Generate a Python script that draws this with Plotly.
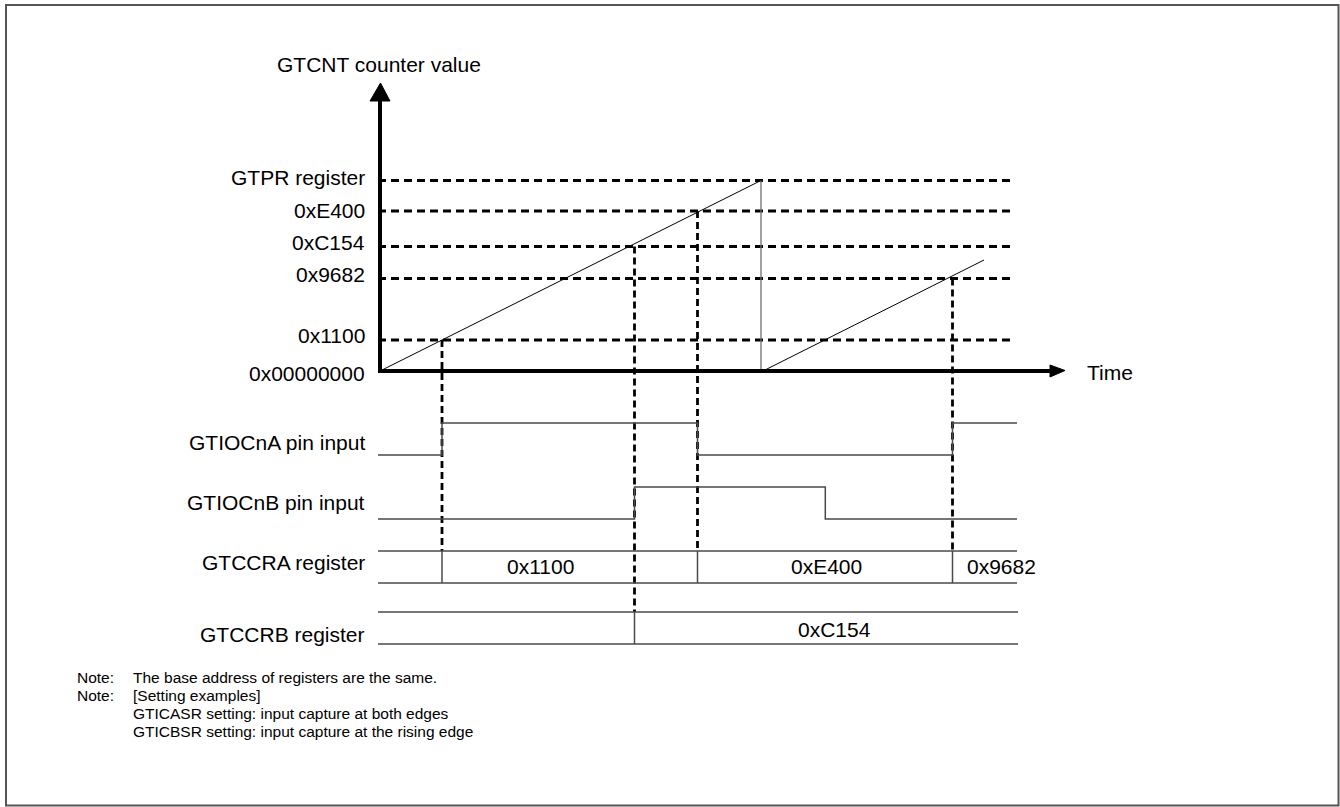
import plotly.graph_objects as go

# ---------------- data (schematic units: t = time, v = counter / signal level) ----------------
counter_labels = ["GTPR register", "0xE400", "0xC154", "0x9682", "0x1100", "0x00000000"]
counter_levels = [190.5, 160, 124.5, 92.5, 31, 0]
counter_label_offset = [3.5, 1, 4.5, 4.5, 5, -2]

ramp1_t = [0, 381]
ramp1_v = [0, 190.5]
wrap_t = [381, 381]
wrap_v = [190.5, 0]
ramp2_t = [383, 604]
ramp2_v = [0, 111]

capture_t = [62, 254.5, 317.5, 572.5]
capture_v = [31, 124.5, 160, 92.5]
capture_row = ["GTCCRA", "GTCCRB", "GTCCRA", "GTCCRA"]

gtiocna_t = [-2, 62, 62, 317.5, 317.5, 572.5, 572.5, 637]
gtiocna_s = [0, 0, 1, 1, 0, 0, 1, 1]
gtiocnb_t = [-2, 254.5, 254.5, 445.3, 445.3, 637]
gtiocnb_s = [0, 0, 1, 1, 0, 0]

gtccra_edges = [-2, 62, 317.5, 572.5, 637]
gtccra_text = ["0x1100", "0xE400", "0x9682"]
gtccra_text_t = [160, 446, 621.7]
gtccrb_edges = [-2, 254.5, 638]
gtccrb_text = ["0xC154"]
gtccrb_text_t = [454]

row_names = ["GTIOCnA", "GTIOCnB", "GTCCRA", "GTCCRB"]
row_labels = ["GTIOCnA pin input", "GTIOCnB pin input", "GTCCRA register", "GTCCRB register"]
row_base = [-84, -148, -212, -273]
row_label_v = [-71, -131, -191.7, -263]
row_height = 32

notes_head = ["Note:", "Note:", "", ""]
notes_body = [
    "The base address of registers are the same.",
    "[Setting examples]",
    "GTICASR setting: input capture at both edges",
    "GTICBSR setting: input capture at the rising edge",
]
notes_v = [-306, -324, -342, -360]

# ---------------- layout constants ----------------
T_MIN, T_MAX = -380, 960
V_MIN, V_MAX = -436, 371
DASH_END = 633
AXIS_T_END = 671
ARROW_T_TIP = 685
AXIS_V_END = 270
ARROW_V_TIP = 288
FONT = "Liberation Sans, Arial, sans-serif"
FS = 21
FS_NOTE = 15.5

base = dict(zip(row_names, row_base))

fig = go.Figure()


def line(x, y, color="#000", width=1.0, dash=None):
    fig.add_trace(go.Scatter(x=x, y=y, mode="lines", hoverinfo="skip", showlegend=False,
                             line=dict(color=color, width=width, dash=dash)))


# horizontal dashed level lines
for lv in counter_levels[:-1]:
    line([-2, DASH_END], [lv, lv], width=3, dash="8px,5px")

# vertical dashed capture lines
for t, v, r in zip(capture_t, capture_v, capture_row):
    line([t, t], [v, base[r] + row_height], width=2.8, dash="7px,4px")

# counter ramps
line(ramp1_t, ramp1_v, width=1)
line(wrap_t, wrap_v, color="#6e6e6e", width=1.3)
line(ramp2_t, ramp2_v, width=1)

# axes with arrows
line([0, 0], [-2, AXIS_V_END], width=4)
line([-2, AXIS_T_END], [0, 0], width=4)
fig.add_trace(go.Scatter(x=[-10, 10, 0.5, -10], y=[AXIS_V_END, AXIS_V_END, ARROW_V_TIP, AXIS_V_END],
                         mode="lines", fill="toself", fillcolor="#000", line=dict(color="#000", width=1),
                         hoverinfo="skip", showlegend=False))
fig.add_trace(go.Scatter(x=[AXIS_T_END - 1, AXIS_T_END - 1, ARROW_T_TIP, AXIS_T_END - 1], y=[6, -6, 0.5, 6],
                         mode="lines", fill="toself", fillcolor="#000", line=dict(color="#000", width=1),
                         hoverinfo="skip", showlegend=False))

# digital signals
sig_color = "#4a4a4a"
line(gtiocna_t, [base["GTIOCnA"] + s * row_height for s in gtiocna_s], color=sig_color, width=1.5)
line(gtiocnb_t, [base["GTIOCnB"] + s * row_height for s in gtiocnb_s], color=sig_color, width=1.5)

# register buses
for name, edges in (("GTCCRA", gtccra_edges), ("GTCCRB", gtccrb_edges)):
    b = base[name]
    line([edges[0], edges[-1]], [b + row_height, b + row_height], color=sig_color, width=1.5)
    line([edges[0], edges[-1]], [b, b], color=sig_color, width=1.5)
    for e in edges[1:-1]:
        line([e, e], [b, b + row_height], color=sig_color, width=1.5)

# texts
ann = []
def text(x, y, s, xanchor="right", size=FS):
    ann.append(dict(x=x, y=y, text=s, xref="x", yref="y", showarrow=False, xanchor=xanchor,
                    yanchor="middle", font=dict(family=FONT, size=size, color="#000")))

for lab, lv, off in zip(counter_labels, counter_levels, counter_label_offset):
    text(-13, lv + off, lab)
for lab, lv in zip(row_labels, row_label_v):
    text(-13, lv, lab)
for s, t in zip(gtccra_text, gtccra_text_t):
    text(t, base["GTCCRA"] + row_height / 2 + 0.5, s, xanchor="center")
for s, t in zip(gtccrb_text, gtccrb_text_t):
    text(t, base["GTCCRB"] + row_height / 2 - 1.5, s, xanchor="center")
text(-105, 307, "GTCNT counter value", xanchor="left")
text(705, -1, "Time", xanchor="left")
for h, bdy, v in zip(notes_head, notes_body, notes_v):
    if h:
        text(-305, v, h, xanchor="left", size=FS_NOTE)
    text(-249, v, bdy, xanchor="left", size=FS_NOTE)

fig.update_layout(
    width=1340, height=807, margin=dict(l=0, r=0, t=0, b=0),
    paper_bgcolor="#fff", plot_bgcolor="#fff", showlegend=False,
    xaxis=dict(range=[T_MIN, T_MAX], visible=False, fixedrange=True),
    yaxis=dict(range=[V_MIN, V_MAX], visible=False, fixedrange=True),
    annotations=ann,
    shapes=[dict(type="rect", xref="paper", yref="paper", x0=6 / 1340, x1=1338.5 / 1340,
                 y0=1 - 805.5 / 807, y1=1 - 5 / 807, line=dict(color="#555", width=2))],
)

fig.write_html("out.html", config={"displayModeBar": False, "staticPlot": True},
               post_script="document.body.style.margin='0';document.body.style.overflow='hidden';")
